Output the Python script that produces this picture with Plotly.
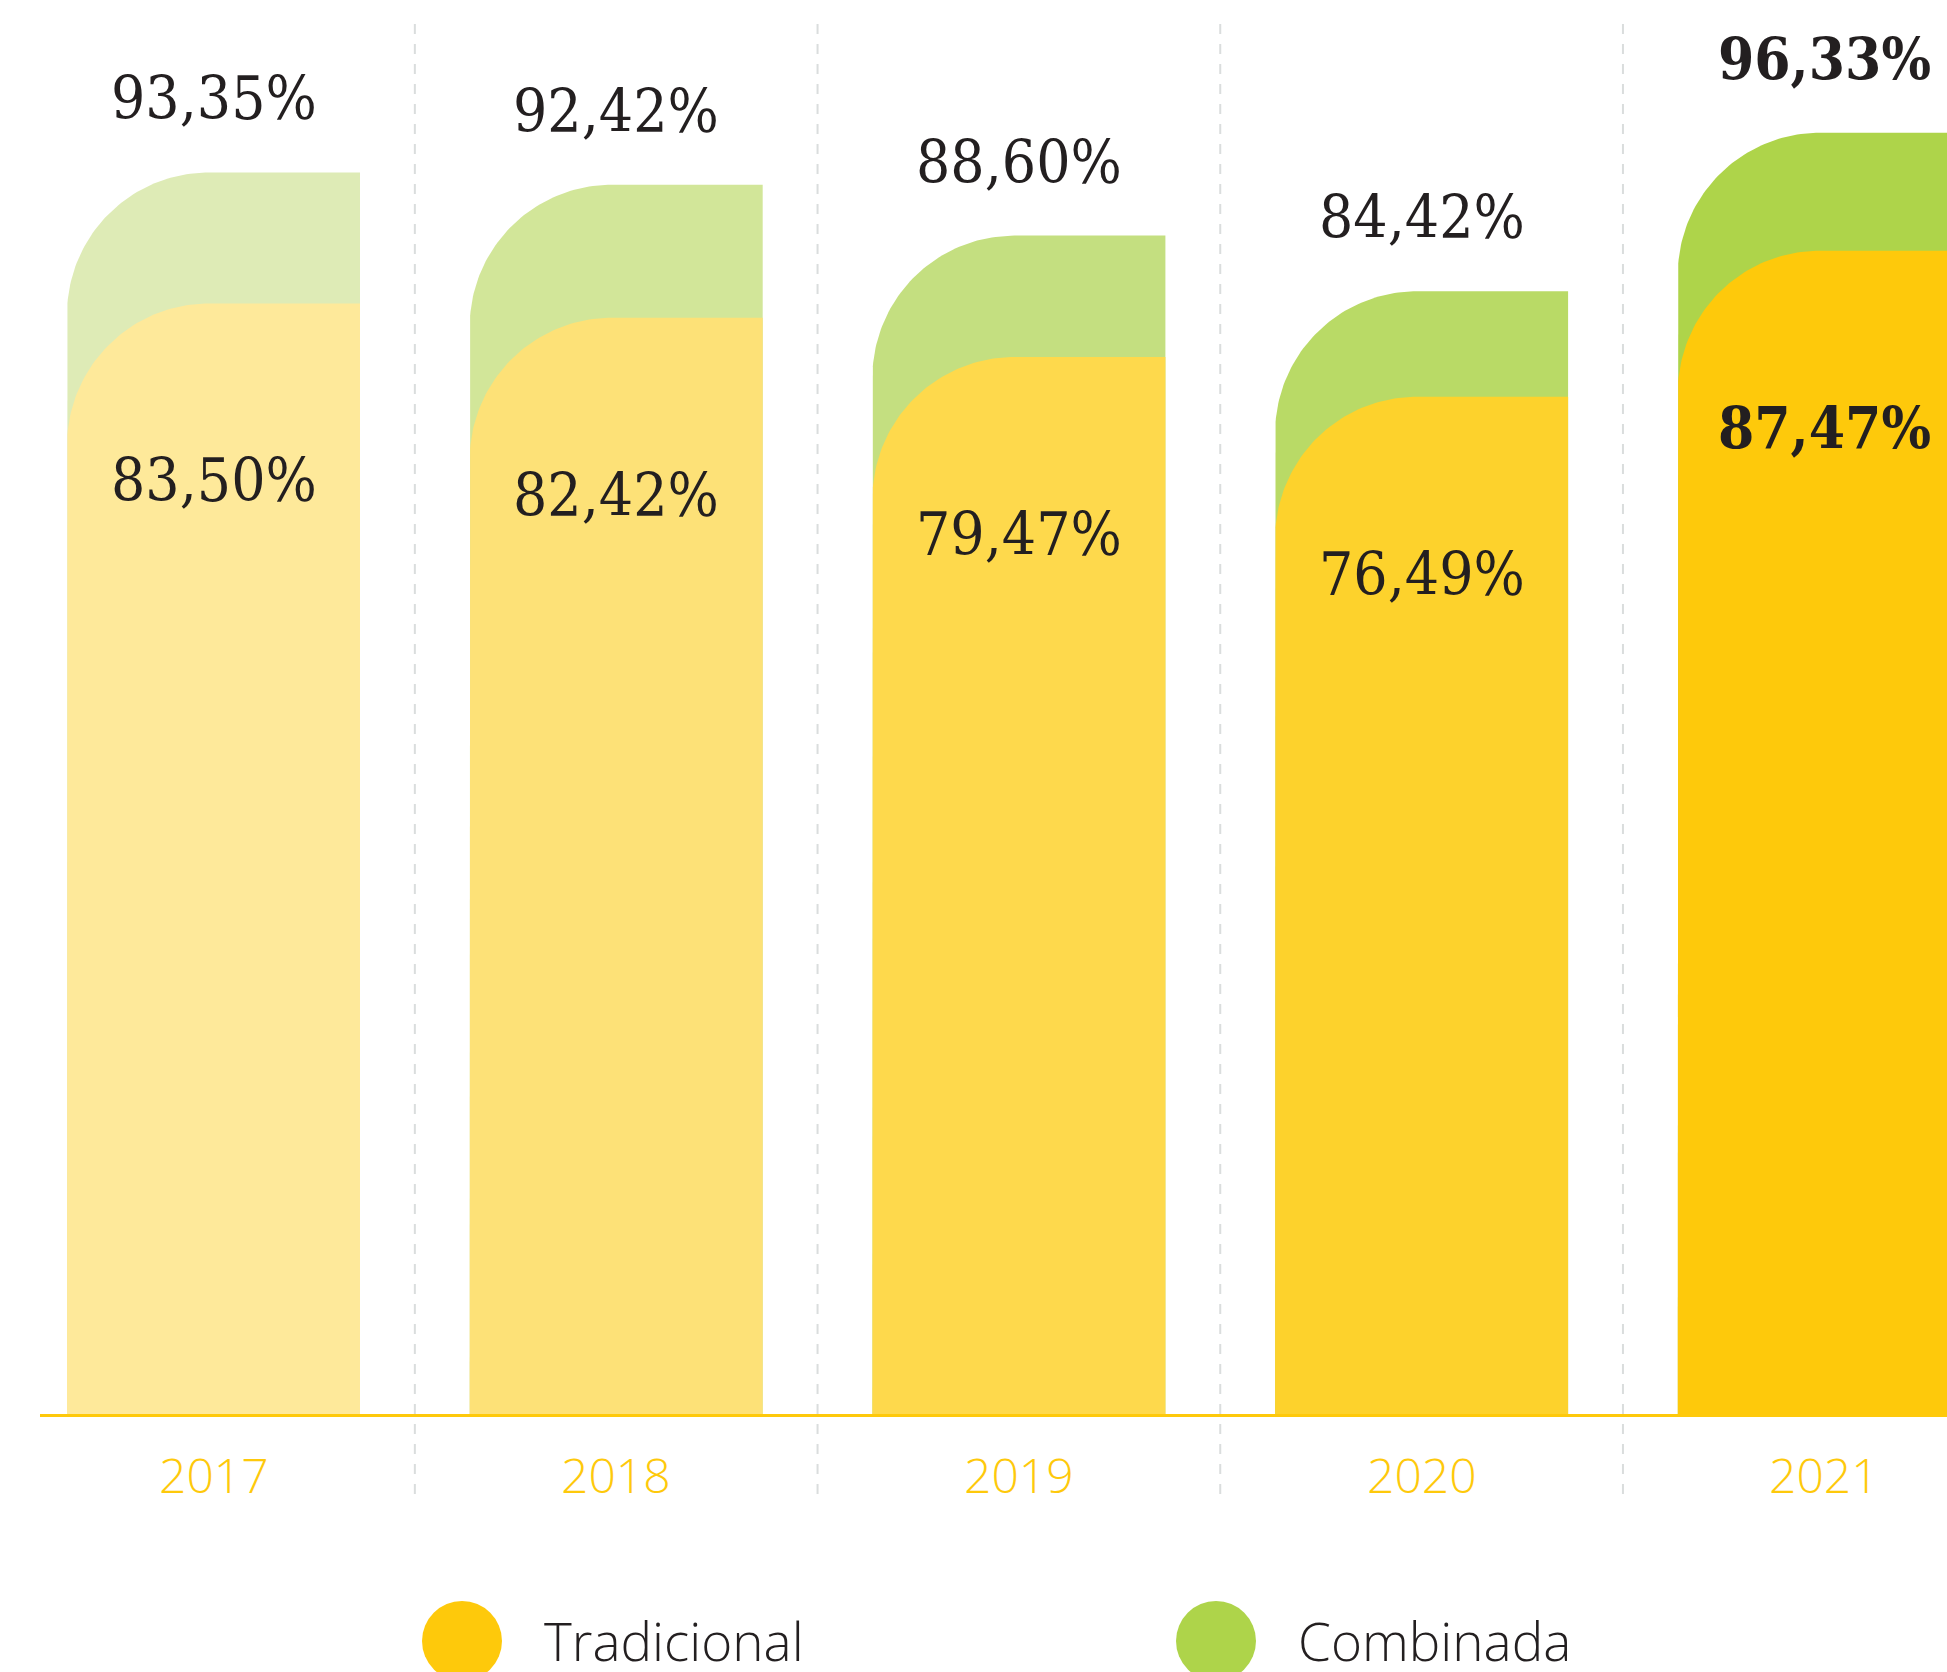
import numpy as np
import plotly.graph_objects as go

# --- data -------------------------------------------------------------
years = ["2017", "2018", "2019", "2020", "2021"]
tradicional = [83.50, 82.42, 79.47, 76.49, 87.47]
combinada = [93.35, 92.42, 88.60, 84.42, 96.33]

# --- styling ----------------------------------------------------------
yellow_shades = ["#FEE99A", "#FDE177", "#FED94C", "#FDD22C", "#FEC90B"]
green_shades = ["#DEEBB6", "#D2E699", "#C4DF80", "#B9DA66", "#AED44A"]
YELLOW = "#FEC90B"
GREEN = "#AED44A"
INK = "#231F20"

W, H = 1947, 1672
M_L, M_B = 40, 258
PX_PER_CAT = 402.7          # horizontal pixels per category
PX_PER_UNIT = 13.3          # vertical pixels per percentage point
BAR_PX = 293                # bar width in pixels
RADIUS_PX = 142             # top-left corner radius in pixels

plot_w = W - M_L
plot_h = H - M_B
x0 = -(213.5 - M_L) / PX_PER_CAT
x1 = x0 + plot_w / PX_PER_CAT
y_top = plot_h / PX_PER_UNIT

half_w = BAR_PX / PX_PER_CAT / 2
rx = RADIUS_PX / PX_PER_CAT
ry = RADIUS_PX / PX_PER_UNIT


def bar_outline(center, value):
    """Bar with only its top-left corner rounded."""
    left, right = center - half_w, center + half_w
    theta = np.linspace(np.pi, np.pi / 2, 60)
    cx, cy = left + rx, value - ry
    arc_x = cx + rx * np.cos(theta)
    arc_y = cy + ry * np.sin(theta)
    xs = [left] + list(arc_x) + [right, right, left]
    ys = [0] + list(arc_y) + [value, 0, 0]
    return xs, ys


fig = go.Figure()

# Combinada behind, Tradicional in front
for series, shades in ((combinada, green_shades), (tradicional, yellow_shades)):
    for i, v in enumerate(series):
        xs, ys = bar_outline(i, v)
        fig.add_trace(go.Scatter(
            x=xs, y=ys, mode="lines", fill="toself",
            fillcolor=shades[i], line=dict(width=0, color=shades[i]),
            hoverinfo="skip", showlegend=False,
        ))


def fmt(v):
    return f"{v:.2f}".replace(".", ",") + "%"


label_font = "DejaVu Serif Condensed, DejaVu Serif"
annotations = []
for i, (t, c) in enumerate(zip(tradicional, combinada)):
    bold = i == len(years) - 1
    weight = "bold" if bold else "normal"
    size = 58 if bold else 60
    annotations.append(dict(
        x=i, y=c, xref="x", yref="y", text=fmt(c), showarrow=False,
        xanchor="center", yanchor="middle", yshift=74,
        font=dict(family=label_font, size=size, color=INK, weight=weight),
    ))
    annotations.append(dict(
        x=i, y=t, xref="x", yref="y", text=fmt(t), showarrow=False,
        xanchor="center", yanchor="middle", yshift=-177,
        font=dict(family=label_font, size=size, color=INK, weight=weight),
    ))
    annotations.append(dict(
        x=i, y=0, xref="x", yref="y", text=years[i], showarrow=False,
        xanchor="center", yanchor="middle", yshift=-60,
        font=dict(family="Open Sans", size=48, color=YELLOW, weight=300),
    ))

# legend drawn by hand
def px_to_paper_x(px):
    return (px - M_L) / plot_w


def px_to_paper_y(py):
    return (plot_h - py) / plot_h


shapes = []
for cx_px, color, name, text_px in ((462, YELLOW, "Tradicional", 542),
                                    (1216, GREEN, "Combinada", 1296)):
    shapes.append(dict(
        type="circle", xref="paper", yref="paper",
        x0=px_to_paper_x(cx_px - 40), x1=px_to_paper_x(cx_px + 40),
        y0=px_to_paper_y(1641 + 40), y1=px_to_paper_y(1641 - 40),
        fillcolor=color, line=dict(width=0), layer="above",
    ))
    annotations.append(dict(
        x=px_to_paper_x(text_px), y=px_to_paper_y(1640), xref="paper", yref="paper",
        text=name, showarrow=False, xanchor="left", yanchor="middle",
        font=dict(family="Open Sans", size=53, color=INK, weight=300),
    ))

# dashed separators between years
for i in range(len(years) - 1):
    shapes.append(dict(
        type="line", xref="x", yref="paper",
        x0=i + 0.5, x1=i + 0.5,
        y0=px_to_paper_y(1494), y1=px_to_paper_y(16),
        line=dict(color="#DADDDD", width=2, dash="10px,10px"),
        layer="below",
    ))

fig.update_layout(
    width=W, height=H,
    margin=dict(l=M_L, r=0, t=0, b=M_B),
    paper_bgcolor="white", plot_bgcolor="white",
    xaxis=dict(range=[x0, x1], showgrid=False, zeroline=False,
               showticklabels=False, ticks="", showline=True,
               linecolor=YELLOW, linewidth=3, fixedrange=True),
    yaxis=dict(range=[0, y_top], visible=False, showgrid=False,
               zeroline=False, fixedrange=True),
    shapes=shapes,
    annotations=annotations,
    showlegend=False,
)

fig.write_html("out.html", config={"displayModeBar": False})
